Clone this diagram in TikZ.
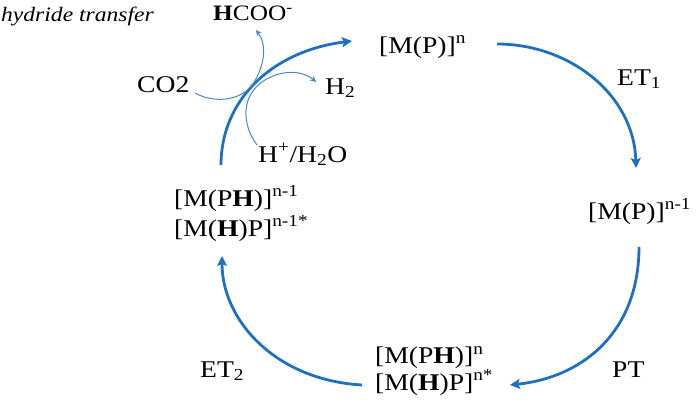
\documentclass[tikz,border=0pt]{standalone}
\usepackage{fontspec}
\setmainfont{Liberation Serif}[FakeStretch=1.15]
\usetikzlibrary{arrows.meta,calc}
\definecolor{cycblue}{RGB}{30,112,192}
\definecolor{thinblue}{RGB}{70,135,200}
\begin{document}
\begin{tikzpicture}[x=1pt,y=-1pt,
  lbl/.style={inner sep=0pt,anchor=base west,font=\fontsize{24}{30}\selectfont,align=left},
  thick arrow/.style={draw=cycblue,line width=2.8pt,-{Stealth[length=10pt,width=10pt,inset=2pt]}},
  thin arrow/.style={draw=thinblue,line width=1pt,-{Stealth[length=6pt,width=6pt,inset=2pt]}}]
\useasboundingbox (0,0) rectangle (697,410);
% nodes
\node[inner sep=0pt,anchor=base west,font=\fontsize{20.5}{22}\selectfont\itshape] (hyd) at (1,21) {hydride transfer};
\node[inner sep=0pt,anchor=base west,font=\fontsize{22}{24}\selectfont] (hcoo) at (213,20) {\textbf{H}COO\textsuperscript{-}};
\node[lbl] (co2) at (137,92) {CO2};
\node[lbl] (h2) at (325,94) {H\textsubscript{2}};
\node[lbl] (hh2o) at (258,162) {H\textsuperscript{+}/H\textsubscript{2}O};
\node[lbl] (mpn) at (379,53) {[M(P)]\textsuperscript{n}};
\node[lbl] (et1) at (617,85) {ET\textsubscript{1}};
\node[lbl] (mpn1) at (588,219) {[M(P)]\textsuperscript{n-1}};
\node[lbl] (mph1) at (174,236) {[M(P\textbf{H})]\textsuperscript{n-1}\\{[M(\textbf{H})P]\textsuperscript{n-1*}}};
\node[lbl,font=\fontsize{24}{25}\selectfont] (mphn) at (375,390) {[M(P\textbf{H})]\textsuperscript{n}\\{[M(\textbf{H})P]\textsuperscript{n*}}};
\node[lbl] (et2) at (200,377) {ET\textsubscript{2}};
\node[lbl] (pt) at (612,377) {PT};
% cycle arrow end points
\coordinate (a1s) at (221,165);
\coordinate (a1e) at (352,41);
\coordinate (a2s) at (497,44);
\coordinate (a2e) at (636,168);
\coordinate (a3s) at (639,247);
\coordinate (a3e) at (510,385);
\coordinate (a4s) at (362,385);
\coordinate (a4e) at (222,256);
\draw[thick arrow] (a1s) .. controls +(0,-65) and +(-80,10) .. (a1e);
\draw[thick arrow] (a2s) .. controls +(73,0) and +(-2,-73) .. (a2e);
\draw[thick arrow] (a3s) .. controls +(0,83) and +(75,-8) .. (a3e);
\draw[thick arrow] (a4s) .. controls +(-87,-5) and +(0,64) .. (a4e);
% hydride transfer arrows
\coordinate (c1s) at (195,93);
\coordinate (c1e) at (256,30);
\coordinate (c2s) at (257,145);
\coordinate (c2e) at (316,82);
\draw[thin arrow] (c1s) .. controls (213,103) and (240,102) .. (253,84) .. controls (265,65) and (267,45) .. (c1e);
\draw[thin arrow] (c2s) .. controls (242,125) and (240,95) .. (265,80) .. controls (285,68) and (305,72) .. (c2e);
\end{tikzpicture}
\end{document}
